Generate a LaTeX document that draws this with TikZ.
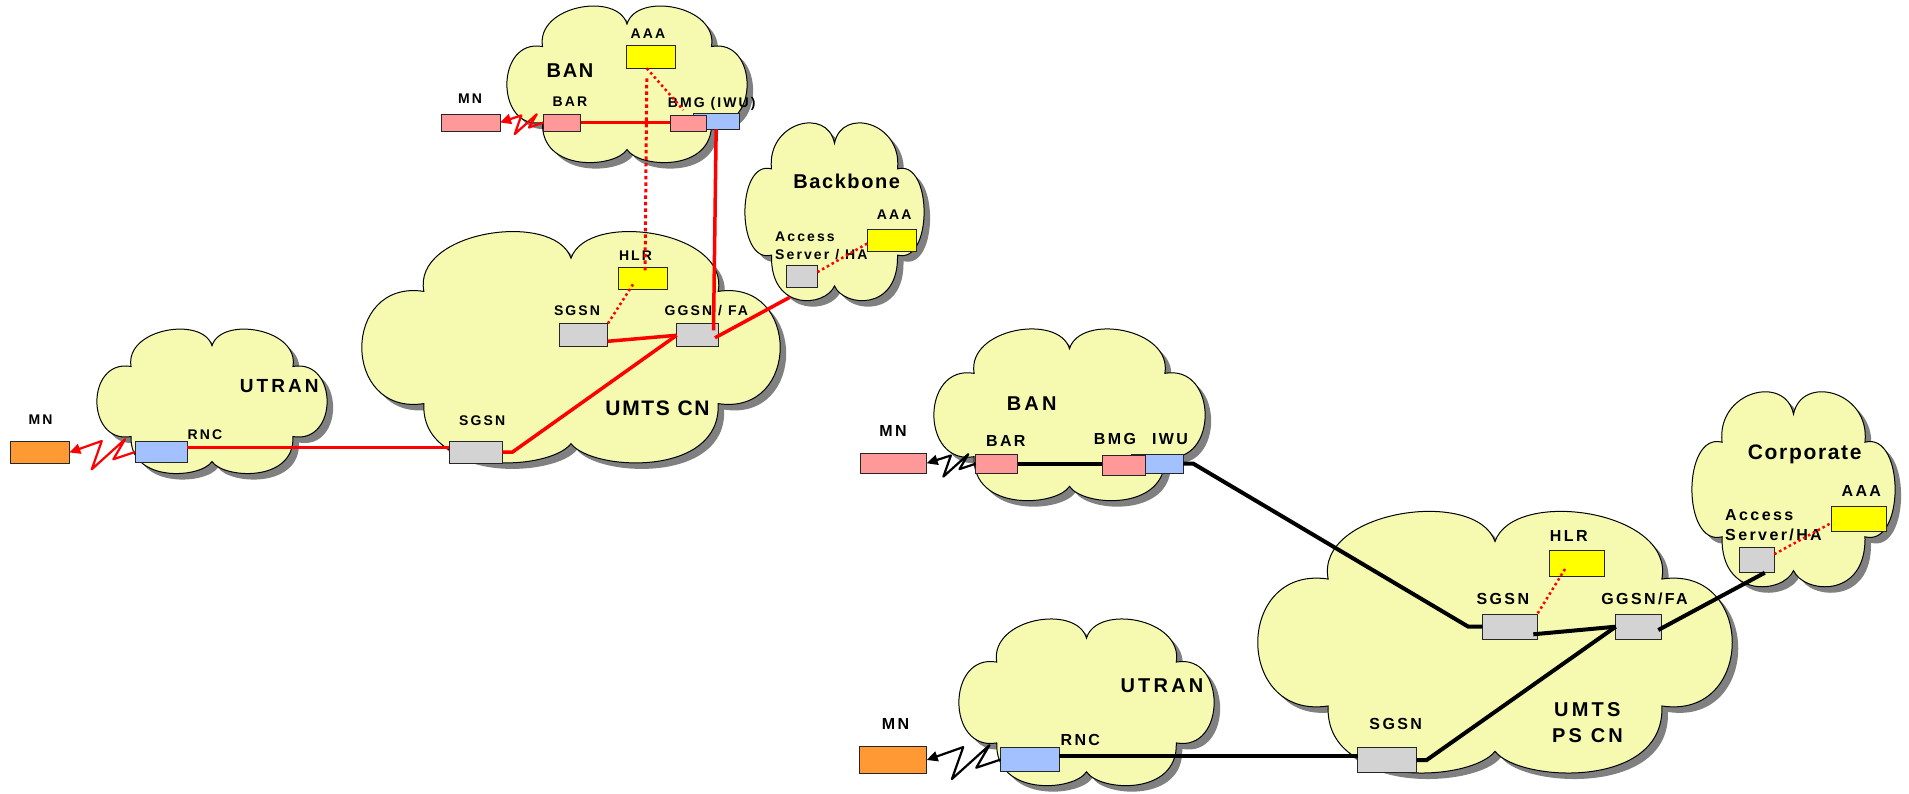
\documentclass[tikz,border=0pt]{standalone}
\usepackage{fontspec}
\setmainfont{Liberation Sans}
\newfontfamily\labfont{Liberation Sans}[LetterSpace=15]
\newfontfamily\titA{Liberation Sans}[LetterSpace=8]
\newfontfamily\titB{Liberation Sans}[LetterSpace=16]
\usetikzlibrary{arrows.meta,calc}
\definecolor{cloudc}{RGB}{245,250,176}
\definecolor{shadowc}{RGB}{128,128,128}
\definecolor{pinkc}{RGB}{255,153,153}
\definecolor{bluec}{RGB}{163,192,255}
\definecolor{grayc}{RGB}{211,211,211}
\definecolor{orangec}{RGB}{255,153,51}
\definecolor{yellowc}{RGB}{255,255,0}
\definecolor{redc}{RGB}{255,0,0}

\newcommand\cloudoutline[1]{%
  \path[#1] (0.148,0.255) .. controls (0.12,-0.01) and (0.46,-0.1) .. (0.5,0.11)
   .. controls (0.54,-0.1) and (0.88,-0.01) .. (0.852,0.255)
   .. controls (1.05,0.2) and (1.05,0.8) .. (0.852,0.745)
   .. controls (0.86,1.07) and (0.55,1.04) .. (0.5,0.92)
   .. controls (0.45,1.04) and (0.14,1.07) .. (0.148,0.745)
   .. controls (-0.05,0.8) and (-0.05,0.2) .. (0.148,0.255) -- cycle;}
\newcommand\netcloud[4]{%
  \pgfmathsetmacro\cw{#3-#1}\pgfmathsetmacro\ch{#4-#2}%
  \begin{scope}[shift={(#1+6,#2+6)},x=\cw pt,y=-\ch pt]
    \cloudoutline{fill=shadowc}
  \end{scope}
  \begin{scope}[shift={(#1,#2)},x=\cw pt,y=-\ch pt]
    \cloudoutline{fill=cloudc,draw=black,line width=1pt}
  \end{scope}}

\begin{document}
\begin{tikzpicture}[x=1pt,y=-1pt,
  box/.style={draw=black!85,line width=0.9pt,inner sep=0pt,outer sep=0pt},
  labL/.style={font=\labfont\bfseries\fontsize{14}{16}\selectfont,anchor=base,inner sep=0pt},
  labLw/.style={labL,anchor=base west},
  labR/.style={font=\labfont\bfseries\fontsize{16}{18}\selectfont,anchor=base,inner sep=0pt},
  labRw/.style={labR,anchor=base west},
  titL/.style={font=\titA\bfseries\fontsize{20}{22}\selectfont,anchor=base,inner sep=0pt},
  titR/.style={font=\titB\bfseries\fontsize{20}{22}\selectfont,anchor=base,inner sep=0pt},
  redln/.style={draw=redc,line width=3.5pt},
  blkln/.style={draw=black,line width=4pt},
  reddot/.style={draw=redc,line width=2.5pt,dash pattern=on 2.5pt off 3pt},
  reddots/.style={draw=redc,line width=3pt,dash pattern=on 3.5pt off 3pt},
  redbolt/.style={draw=redc,line width=2.2pt,line join=round,-{Triangle[length=11pt,width=10pt]}},
  blkbolt/.style={draw=black,line width=2.2pt,line join=round,-{Triangle[length=11pt,width=10pt]}}
]
\useasboundingbox[fill=white] (0,0) rectangle (1909,794);

% ---------- clouds ----------
\netcloud{362}{233}{780}{462}   % UMTS CN
\netcloud{507}{7}{747}{162}     % BAN (left)
\netcloud{745}{124}{924}{300}   % Backbone
\netcloud{97}{330}{327}{473}    % UTRAN (left)
\netcloud{934}{330}{1205}{500}  % BAN (right)
\netcloud{1258}{513}{1732}{772} % UMTS PS CN
\netcloud{1692}{393}{1895}{586} % Corporate
\netcloud{959}{620}{1214}{785}  % UTRAN (right)

% ---------- left figure boxes ----------
\node[box,fill=pinkc,minimum width=59pt,minimum height=17pt] (mn1) at (470.5,122.5) {};
\node[box,fill=pinkc,minimum width=37.4pt,minimum height=16.7pt] (bar1) at (562,122.7) {};
\node[box,fill=bluec,minimum width=46.3pt,minimum height=16pt] (iwu1) at (716.15,121.3) {};
\node[box,fill=pinkc,minimum width=36.7pt,minimum height=16pt] (bmg1) at (688.3,123) {};
\node[box,fill=yellowc,minimum width=48.3pt,minimum height=22.6pt] (aaa1) at (650.8,57) {};
\node[box,fill=yellowc,minimum width=48.6pt,minimum height=22.3pt] (hlr1) at (643,278.8) {};
\node[box,fill=grayc,minimum width=48.3pt,minimum height=22.7pt] (sgsn1a) at (583.5,335.3) {};
\node[box,fill=grayc,minimum width=41.7pt,minimum height=22.7pt] (ggsn1) at (697.5,335.3) {};
\node[box,fill=grayc,minimum width=53pt,minimum height=22.3pt] (sgsn1b) at (475.8,452.2) {};
\node[box,fill=grayc,minimum width=30.7pt,minimum height=22.3pt] (access1) at (802,276.2) {};
\node[box,fill=yellowc,minimum width=48.3pt,minimum height=22pt] (aaa1b) at (891.8,240) {};
\node[box,fill=bluec,minimum width=52.3pt,minimum height=20.6pt] (rnc1) at (161.2,452) {};
\node[box,fill=orangec,minimum width=58.6pt,minimum height=21.6pt] (mn1b) at (40,452.5) {};

% ---------- right figure boxes ----------
\node[box,fill=pinkc,minimum width=66.7pt,minimum height=20pt] (mn2) at (893.3,463.3) {};
\node[box,fill=pinkc,minimum width=42pt,minimum height=19.3pt] (bar2) at (996.7,463.7) {};
\node[box,fill=bluec,minimum width=52.3pt,minimum height=19.3pt] (iwu2) at (1157.15,463.65) {};
\node[box,fill=pinkc,minimum width=42.7pt,minimum height=19.3pt] (bmg2) at (1123.7,465.3) {};
\node[box,fill=yellowc,minimum width=55pt,minimum height=25.3pt] (hlr2) at (1576.8,563.3) {};
\node[box,fill=grayc,minimum width=55pt,minimum height=25.3pt] (sgsn2a) at (1509.8,626.7) {};
\node[box,fill=grayc,minimum width=46pt,minimum height=25.3pt] (ggsn2) at (1638.7,626.7) {};
\node[box,fill=grayc,minimum width=59pt,minimum height=25.3pt] (sgsn2b) at (1387.2,760) {};
\node[box,fill=yellowc,minimum width=55pt,minimum height=25pt] (aaa2) at (1859.2,518.5) {};
\node[box,fill=grayc,minimum width=35pt,minimum height=25pt] (access2) at (1756.8,560.2) {};
\node[box,fill=bluec,minimum width=58.6pt,minimum height=24.4pt] (rnc2) at (1030,759.5) {};
\node[box,fill=orangec,minimum width=67.4pt,minimum height=26.6pt] (mn2b) at (893,760) {};

% ---------- left labels ----------
\node[titL] (tban1) at (570,77.3) {BAN};
\node[titL] (tbackbone) at (846.7,188.3) {Backbone};
\node[titL,font=\titA\bfseries\fontsize{21}{23}\selectfont] (tumts1) at (657.5,415) {UMTS CN};
\node[titR,font=\titB\bfseries\fontsize{19}{21}\selectfont] (tutran1) at (279.2,392.7) {UTRAN};
\node[labL] (lmn1) at (470,104) {MN};
\node[labL] (lbar1) at (570,106.7) {BAR};
\node[labL] (lbmg1) at (711.7,107.3) {BMG (IWU)};
\node[labL] (laaa1) at (648,38.3) {AAA};
\node[labL] (lhlr1) at (635.5,260.7) {HLR};
\node[labL] (lsgsn1a) at (577,315.7) {SGSN};
\node[labL] (lggsn1) at (706.3,315.7) {GGSN / FA};
\node[labL] (lsgsn1b) at (482.2,425) {SGSN};
\node[labL] (lrnc1) at (205,439) {RNC};
\node[labL] (lmn1b) at (40.5,424) {MN};
\node[labL] (laaa1b) at (894.2,220) {AAA};
\node[labLw] (lacc1a) at (775,241.7) {Access};
\node[labLw] (lacc1b) at (775,260) {Server / HA};

% ---------- right labels ----------
\node[titR] (tban2) at (1031.7,410.7) {BAN};
\node[titR] (tutran2) at (1162,692.3) {UTRAN};
\node[titR] (tumts2a) at (1587.3,716.7) {UMTS};
\node[titR] (tumts2b) at (1587.5,742.7) {PS CN};
\node[titL,font=\titA\bfseries\fontsize{21}{23}\selectfont] (tcorp) at (1804.7,459.3) {Corporate};
\node[labR] (lmn2) at (893,436.7) {MN};
\node[labR] (lbar2) at (1005.8,446) {BAR};
\node[labR] (lbmg2) at (1115,444) {BMG};
\node[labR] (liwu2) at (1170,444) {IWU};
\node[labR] (lmn2b) at (895.5,729) {MN};
\node[labR] (lrnc2) at (1080.3,745) {RNC};
\node[labR] (lhlr2) at (1568.8,541.7) {HLR};
\node[labR] (lsgsn2a) at (1502.8,604.3) {SGSN};
\node[labR] (lggsn2) at (1644.5,604.3) {GGSN/FA};
\node[labR] (lsgsn2b) at (1395.7,729) {SGSN};
\node[labR] (laaa2) at (1861.3,496) {AAA};
\node[labRw] (lacc2a) at (1725,520.7) {Access};
\node[labRw] (lacc2b) at (1725,540) {Server/HA};

% ---------- left connectors ----------
\coordinate (bbedge) at ($(access1.south west)+(3,10)$);
\draw[redln] (bar1.east) -- (bar1.east -| bmg1.west);
\draw[redln] (iwu1.south) -- ($(ggsn1.center)+(16,-5)$);
\draw[redln] ($(ggsn1.center)+(17.5,2.5)$) -- (bbedge);
\draw[redln] ($(sgsn1a.east)+(0,6)$) -- (ggsn1.west);
\draw[redln] (sgsn1b.east) -- ++(10,0) -- (ggsn1.west);
\coordinate (rnc1o) at ([yshift=4.5pt]rnc1.east);
\draw[redln] (rnc1o) -- (rnc1o -| sgsn1b.west);
\draw[reddots] ($(aaa1.south)+(-4,10)$) -- ($(hlr1.center)+(2,-7)$);
\draw[reddot] ($(aaa1.south)+(-4,0)$) -- ($(bmg1.north)+(-5,-5)$);
\draw[reddot] ($(hlr1.center)+(-10,5.5)$) -- (sgsn1a.north east);
\draw[reddot] ($(access1.east)+(0,-4)$) -- ($(aaa1b.west)+(0,3.3)$);
\begin{scope}[shift={(rnc1.west)}]
  \draw[redbolt] (rnc1.west) -- (-21.7,7.3) -- (-10,-12.7) -- (-43.3,17.3) -- (-33.3,-11) -- (mn1b.east);
\end{scope}
\begin{scope}[shift={(bar1.west)},scale=0.66]
  \draw[redbolt] (bar1.west) -- (-21.7,7.3) -- (-10,-12.7) -- (-43.3,17.3) -- (-33.3,-11) -- (mn1.east);
\end{scope}

% ---------- right connectors ----------
\draw[blkln] (bar2.east) -- (bar2.east -| bmg2.west);
\draw[blkln] (iwu2.east) -- ++(10,0) -- ($(sgsn2a.west)+(-14,0)$) -- (sgsn2a.west);
\draw[blkln] ($(sgsn2a.east)+(-4,7.6)$) -- (ggsn2.west);
\draw[blkln] (sgsn2b.east) -- ++(10,0) -- (ggsn2.west);
\draw[blkln] ($(ggsn2.east)+(-3.4,3.3)$) -- ($(access2.south)+(8,0)$);
\coordinate (rnc2o) at ([yshift=4pt]rnc2.east);
\draw[blkln] (rnc2o) -- (rnc2o -| sgsn2b.west);
\draw[reddot] ($(hlr2.center)+(-11.8,5.7)$) -- (sgsn2a.north east);
\draw[reddot] ($(access2.east)+(0,-6)$) -- ($(aaa2.west)+(0,4.2)$);
\begin{scope}[shift={(bar2.west)},scale=0.746]
  \draw[blkbolt] (bar2.west) -- (-21.7,7.3) -- (-10,-12.7) -- (-43.3,17.3) -- (-33.3,-11) -- (mn2.east);
\end{scope}
\begin{scope}[shift={(rnc2.west)},scale=1.126]
  \draw[blkbolt] (rnc2.west) -- (-21.7,7.3) -- (-10,-12.7) -- (-43.3,17.3) -- (-33.3,-11) -- (mn2b.east);
\end{scope}
\end{tikzpicture}
\end{document}
